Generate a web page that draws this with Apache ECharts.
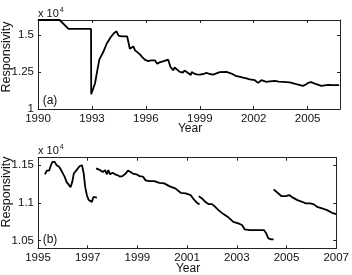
<!DOCTYPE html>
<html>
<head>
<meta charset="utf-8">
<script src="https://cdn.jsdelivr.net/npm/echarts@6/dist/echarts.min.js"></script>
<style>
  html, body { margin: 0; padding: 0; background: #fff; }
  #chart { width: 352px; height: 275px; }
</style>
</head>
<body>
<div id="chart"></div>
<script>
// panel (a): 1990 - 2006, values in units of 10^4
const topYears = [
  1990.0, 1991.2, 1991.7, 1992.95, 1992.96, 1993.17, 1993.3, 1993.41, 1993.63, 1993.82,
  1994.04, 1994.22, 1994.37, 1994.44, 1994.48, 1994.65, 1994.96, 1995.11, 1995.2, 1995.3,
  1995.4, 1995.48, 1995.67, 1995.8, 1995.94, 1996.13, 1996.3, 1996.41, 1996.5, 1996.63,
  1996.8, 1997.0, 1997.24, 1997.3, 1997.37, 1997.45, 1997.52, 1997.6, 1997.7, 1997.89,
  1998.07, 1998.15, 1998.26, 1998.35, 1998.44, 1998.5, 1998.55, 1998.63, 1998.7, 1998.82,
  1999.0, 1999.2, 1999.37, 1999.55, 1999.74, 2000.11, 2000.48, 2000.76, 2001.04, 2001.2,
  2001.41, 2001.6, 2001.78, 2002.06, 2002.24, 2002.43, 2002.71, 2002.9, 2003.17, 2003.4,
  2003.63, 2004.0, 2004.37, 2004.74, 2004.9, 2005.02, 2005.2, 2005.48, 2005.76, 2005.95,
  2006.13, 2006.41, 2006.75
];
const topValues = [
  1.6, 1.6, 1.54, 1.54, 1.10, 1.172, 1.26, 1.333, 1.384, 1.44,
  1.484, 1.511, 1.524, 1.515, 1.495, 1.489, 1.489, 1.406, 1.41, 1.422,
  1.395, 1.384, 1.368, 1.35, 1.333, 1.323, 1.328, 1.323, 1.328, 1.306,
  1.316, 1.323, 1.333, 1.31, 1.283, 1.27, 1.261, 1.28, 1.272, 1.25,
  1.246, 1.26, 1.256, 1.243, 1.239, 1.229, 1.25, 1.25, 1.238, 1.234,
  1.232, 1.236, 1.243, 1.236, 1.232, 1.248, 1.25, 1.239, 1.221, 1.218,
  1.212, 1.207, 1.199, 1.194, 1.176, 1.194, 1.183, 1.186, 1.189, 1.184,
  1.183, 1.179, 1.167, 1.156, 1.165, 1.176, 1.181, 1.167, 1.156, 1.16,
  1.163, 1.161, 1.161
];
const topXTicks = [1990, 1993, 1996, 1999, 2002, 2005];
const topYTicks = [1, 1.25, 1.5];

// panel (b): 1995 - 2007, four segments separated by null
const bottomYears = [
  1995.28, 1995.36, 1995.45, 1995.52, 1995.58, 1995.67, 1995.75, 1995.85, 1995.94, 1996.02,
  1996.07, 1996.15, 1996.24, 1996.31, 1996.38, 1996.44, 1996.55, 1996.68, 1996.77, 1996.84,
  1996.9, 1996.97, 1997.04, 1997.1, 1997.17, 1997.23, 1997.3, 1997.37, 1997.36,
  1997.34, 1997.39, 1997.5, 1997.61, 1997.7, 1997.77, 1997.83, 1997.9, 1998.0, 1998.1,
  1998.19, 1998.29, 1998.4, 1998.53, 1998.62, 1998.72, 1998.82, 1998.96, 1999.09, 1999.22,
  1999.33, 1999.48, 1999.68, 1999.88, 2000.08, 2000.28, 2000.54, 2000.74, 2000.94, 2001.0,
  2001.14, 2001.27, 2001.4, 2001.5, 2001.49,
  2001.47, 2001.6, 2001.73, 2001.87, 2002.0, 2002.13, 2002.26, 2002.46, 2002.66, 2002.86,
  2003.06, 2003.21, 2003.32, 2003.52, 2003.85, 2004.09, 2004.18, 2004.27, 2004.38, 2004.48, 2004.481,
  2004.48, 2004.64, 2004.8, 2004.97, 2005.11, 2005.24, 2005.44, 2005.63, 2005.77, 2005.96,
  2006.1, 2006.23, 2006.43, 2006.63, 2006.83, 2007.0
];
const bottomValues = [
  1.138, 1.143, 1.143, 1.15, 1.1545, 1.1545, 1.15, 1.148, 1.143, 1.138,
  1.135, 1.128, 1.124, 1.121, 1.128, 1.139, 1.1435, 1.149, 1.15, 1.139,
  1.121, 1.11, 1.104, 1.106, 1.1015, 1.108, 1.11, 1.107, null,
  1.1458, 1.148, 1.1435, 1.141, 1.1435, 1.138, 1.1435, 1.138, 1.14, 1.138,
  1.137, 1.135, 1.1356, 1.139, 1.143, 1.141, 1.139, 1.138, 1.1356, 1.135,
  1.13, 1.129, 1.129, 1.1267, 1.126, 1.1224, 1.119, 1.1135, 1.1127, 1.1127,
  1.1105, 1.1047, 1.1003, 1.098, null,
  1.109, 1.106, 1.1016, 1.0985, 1.0985, 1.095, 1.0906, 1.0853, 1.081, 1.0751,
  1.073, 1.0708, 1.065, 1.0642, 1.0642, 1.0642, 1.0598, 1.0532, 1.0519, 1.0519, null,
  1.118, 1.1135, 1.109, 1.109, 1.1105, 1.1074, 1.1038, 1.1016, 1.0995, 1.0995,
  1.0982, 1.095, 1.0929, 1.0906, 1.087, 1.0853
];
const bottomXTicks = [1995, 1997, 1999, 2001, 2003, 2005, 2007];
const bottomYTicks = [1.05, 1.1, 1.15];

const FONT = "Liberation Sans";
const AXIS_COLOR = "#222";

function xAxes(gridIndex, min, max, ticks) {
  return [
    {
      gridIndex, type: "value", min, max, position: "bottom",
      axisLine: { show: true, onZero: false, lineStyle: { color: AXIS_COLOR, width: 1 } },
      axisTick: { show: true, inside: true, length: 3, customValues: ticks, lineStyle: { color: AXIS_COLOR } },
      axisLabel: { customValues: ticks, color: "#111", fontFamily: FONT, fontSize: 11.5, margin: 4, formatter: (v) => String(v) },
      splitLine: { show: false },
    },
    {
      gridIndex, type: "value", min, max, position: "top",
      axisLine: { show: true, onZero: false, lineStyle: { color: AXIS_COLOR, width: 1 } },
      axisTick: { show: true, inside: true, length: 3, customValues: ticks, lineStyle: { color: AXIS_COLOR } },
      axisLabel: { show: false },
      splitLine: { show: false },
    },
  ];
}

function yAxes(gridIndex, min, max, ticks) {
  return [
    {
      gridIndex, type: "value", min, max, position: "left",
      axisLine: { show: true, onZero: false, lineStyle: { color: AXIS_COLOR, width: 1 } },
      axisTick: { show: true, inside: true, length: 3, customValues: ticks, lineStyle: { color: AXIS_COLOR } },
      axisLabel: { customValues: ticks, color: "#111", fontFamily: FONT, fontSize: 11.5, margin: 4, formatter: (v) => String(+v.toFixed(2)) },
      splitLine: { show: false },
    },
    {
      gridIndex, type: "value", min, max, position: "right",
      axisLine: { show: true, onZero: false, lineStyle: { color: AXIS_COLOR, width: 1 } },
      axisTick: { show: true, inside: true, length: 3, customValues: ticks, lineStyle: { color: AXIS_COLOR } },
      axisLabel: { show: false },
      splitLine: { show: false },
    },
  ];
}

function label(text, x, y, extra) {
  return Object.assign({
    type: "text", x, y,
    style: { text, fill: "#111", font: "12px '" + FONT + "'", textAlign: "center", textVerticalAlign: "middle" },
  }, extra || {});
}

function multiplier(x, y) {
  return {
    type: "text", x, y,
    style: {
      text: "{a|x 10}{b|4}",
      rich: {
        a: { fontFamily: FONT, fontSize: 11, fill: "#111", verticalAlign: "bottom" },
        b: { fontFamily: FONT, fontSize: 7, fill: "#111", verticalAlign: "top", padding: [0, 0, 6, 1] },
      },
      textVerticalAlign: "middle",
    },
  };
}

const chart = echarts.init(document.getElementById("chart"), null, { renderer: "canvas" });

chart.setOption({
  animation: false,
  backgroundColor: "#fff",
  grid: [
    { left: 38, right: 12, top: 20, height: 89 },
    { left: 38, right: 13, top: 157.7, height: 90.6 },
  ],
  xAxis: [].concat(xAxes(0, 1990, 2006.8, topXTicks), xAxes(1, 1995, 2007, bottomXTicks)),
  yAxis: [].concat(yAxes(0, 1, 1.6, topYTicks), yAxes(1, 1.04, 1.16, bottomYTicks)),
  series: [
    {
      type: "line", xAxisIndex: 0, yAxisIndex: 0,
      data: topYears.map((x, i) => [x, topValues[i]]),
      showSymbol: false, connectNulls: false,
      lineStyle: { color: "#000", width: 1.8 },
    },
    {
      type: "line", xAxisIndex: 2, yAxisIndex: 2,
      data: bottomYears.map((x, i) => [x, bottomValues[i]]),
      showSymbol: false, connectNulls: false,
      lineStyle: { color: "#000", width: 1.8 },
    },
  ],
  graphic: [
    multiplier(38, 13),
    multiplier(38, 150),
    label("Responsivity", 7, 57, { rotation: Math.PI / 2, style: { text: "Responsivity", fill: "#111", font: "12.5px '" + FONT + "'", textAlign: "center", textVerticalAlign: "middle" } }),
    label("Responsivity", 7, 192, { rotation: Math.PI / 2, style: { text: "Responsivity", fill: "#111", font: "12.5px '" + FONT + "'", textAlign: "center", textVerticalAlign: "middle" } }),
    label("Year", 190, 129),
    label("Year", 188, 269),
    label("(a)", 50, 100.5),
    label("(b)", 50, 240),
  ],
});
</script>
</body>
</html>
